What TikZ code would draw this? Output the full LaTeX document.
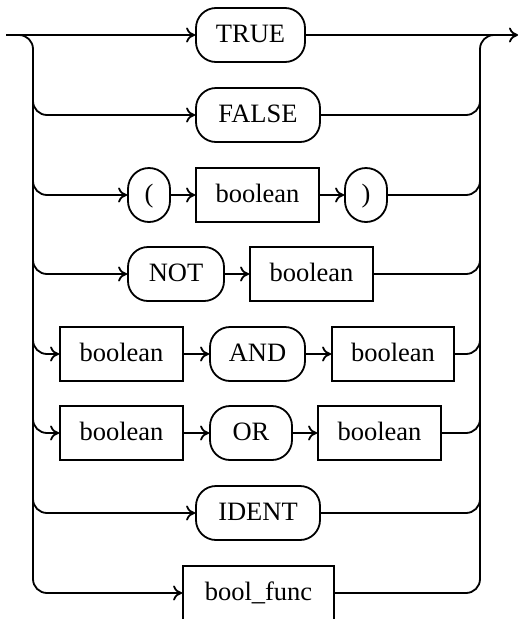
\documentclass[tikz,border=0pt]{standalone}
\usepackage{fontspec}
\setmainfont{Liberation Serif}
\usetikzlibrary{arrows.meta,calc}

\begin{document}
\begin{tikzpicture}[
    x=1pt,y=-1pt,
    >={To[length=9pt,width=15pt]},
    rail/.style={line width=1.8pt,rounded corners=14pt},
    keyword/.style={draw,line width=1.8pt,rounded corners=20pt,minimum height=54pt,inner sep=0pt,text height=18pt,text depth=4pt,font=\fontsize{26.5}{30}\selectfont},
    paren/.style={keyword,rounded corners=21pt},
    nonterm/.style={draw,line width=1.8pt,minimum height=54pt,inner sep=0pt,text height=18pt,text depth=4pt,font=\fontsize{26.5}{30}\selectfont}
  ]
    \useasboundingbox (0,0) rectangle (520,619);

    % Entry, exit and the two rails
    \coordinate (in) at (6,35);
    \coordinate (out) at (518,35);
    \coordinate (lrail) at (33,35);
    \coordinate (rrail) at (480,35);

    % Alternatives, one per row
    \node[keyword,minimum width=109pt] (true) at (250.5,35) {TRUE};
    \node[keyword,minimum width=124pt] (false) at (258,115) {FALSE};
    \node[paren,minimum width=42pt] (lpar) at (149,195) {(};
    \node[nonterm,minimum width=123pt] (bool1) at (257.5,195) {boolean};
    \node[paren,minimum width=42pt] (rpar) at (366,195) {)};
    \node[keyword,minimum width=96pt] (not) at (176,274) {NOT};
    \node[nonterm,minimum width=123pt] (bool2) at (311.5,274) {boolean};
    \node[nonterm,minimum width=123pt] (band1) at (121.5,354) {boolean};
    \node[keyword,minimum width=95pt] (and) at (257.5,354) {AND};
    \node[nonterm,minimum width=122pt] (band2) at (393,354) {boolean};
    \node[nonterm,minimum width=123pt] (bor1) at (121.5,433) {boolean};
    \node[keyword,minimum width=82pt] (or) at (251,433) {OR};
    \node[nonterm,minimum width=123pt] (bor2) at (379.5,433) {boolean};
    \node[keyword,minimum width=124pt] (ident) at (258,513) {IDENT};
    \node[nonterm,minimum width=151pt] (bfunc) at (258.5,593) {bool\_func};

    % Main line through TRUE
    \draw[->,rail] (in) -- (true);
    \draw[->,rail] (true) -- (out);

    % Left rail and its branches
    \draw[->,rail] ($(lrail)+(-14,0)$) -| (lrail |- bfunc) -- (bfunc);
    \foreach \n in {false,lpar,not,band1,bor1,ident}
      \draw[->,rail] ($(lrail |- \n)+(0,-20)$) |- (\n);

    % Inside the rows
    \draw[->,rail] (lpar) -- (bool1);
    \draw[->,rail] (bool1) -- (rpar);
    \draw[->,rail] (not) -- (bool2);
    \draw[->,rail] (band1) -- (and);
    \draw[->,rail] (and) -- (band2);
    \draw[->,rail] (bor1) -- (or);
    \draw[->,rail] (or) -- (bor2);

    % Right rail joining back
    \foreach \n in {false,rpar,bool2,band2,bor2,ident}
      \draw[rail] (\n) -| ($(rrail |- \n)+(0,-20)$);
    \draw[rail] (bfunc) -| (rrail) -- ($(rrail)+(14,0)$);
  \end{tikzpicture}
\end{document}
